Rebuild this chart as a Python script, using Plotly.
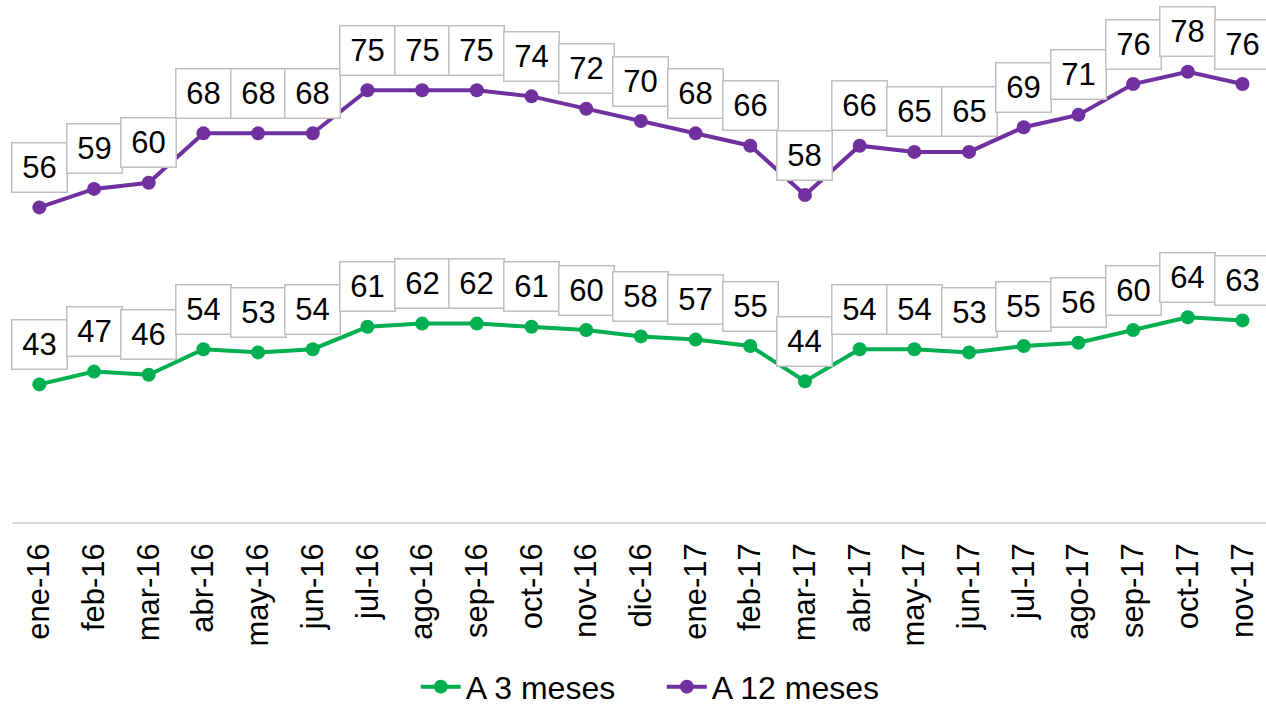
import plotly.graph_objects as go

months = ["ene-16","feb-16","mar-16","abr-16","may-16","jun-16","jul-16","ago-16","sep-16",
          "oct-16","nov-16","dic-16","ene-17","feb-17","mar-17","abr-17","may-17","jun-17",
          "jul-17","ago-17","sep-17","oct-17","nov-17"]
a3 = [43,47,46,54,53,54,61,62,62,61,60,58,57,55,44,54,54,53,55,56,60,64,63]
a12 = [56,59,60,68,68,68,75,75,75,74,72,70,68,66,58,66,65,65,69,71,76,78,76]

GREEN = "#00B050"
PURPLE = "#7030A0"
FONT = "Liberation Sans, Arial, sans-serif"
FS = 31

fig = go.Figure()
fig.add_trace(go.Scatter(x=months, y=a3, name="A 3 meses", mode="lines+markers",
                         line=dict(color=GREEN, width=4), marker=dict(size=14, color=GREEN),
                         yaxis="y"))
fig.add_trace(go.Scatter(x=months, y=a12, name="A 12 meses", mode="lines+markers",
                         line=dict(color=PURPLE, width=4), marker=dict(size=14, color=PURPLE),
                         yaxis="y2"))

annotations = []
for m, v in zip(months, a3):
    annotations.append(dict(x=m, y=v, xref="x", yref="y", text=str(v), showarrow=False,
                            yshift=40, font=dict(family=FONT, size=FS, color="black"),
                            bgcolor="white", bordercolor="#BFBFBF", borderwidth=1.5,
                            borderpad=5, width=44, height=38))
for m, v in zip(months, a12):
    annotations.append(dict(x=m, y=v, xref="x", yref="y2", text=str(v), showarrow=False,
                            yshift=40, font=dict(family=FONT, size=FS, color="black"),
                            bgcolor="white", bordercolor="#BFBFBF", borderwidth=1.5,
                            borderpad=5, width=44, height=38))

fig.update_layout(
    width=1266, height=707,
    margin=dict(l=12, r=0, t=10, b=185, autoexpand=False),
    paper_bgcolor="white", plot_bgcolor="white",
    font=dict(family=FONT, size=FS, color="black"),
    showlegend=True,
    legend=dict(orientation="h", x=0.322, xanchor="left", y=-0.322, yanchor="middle",
                font=dict(family=FONT, size=32, color="black"), itemwidth=40,
                entrywidth=191, entrywidthmode="pixels",
                traceorder="normal"),
    xaxis=dict(type="category", range=[-0.5, 22.43], showgrid=False, zeroline=False,
               showline=True, linecolor="#D9D9D9", linewidth=1.5, ticks="",
               tickangle=-90, ticklabelstandoff=7,
               tickfont=dict(family=FONT, size=FS, color="black")),
    yaxis=dict(range=[0, 160], visible=False, showgrid=False, zeroline=False),
    yaxis2=dict(range=[5, 88], overlaying="y", side="right", visible=False,
                showgrid=False, zeroline=False),
    annotations=annotations,
)

fig.write_html("out.html", config={"displayModeBar": False},
               post_script="document.body.style.margin='0';")
